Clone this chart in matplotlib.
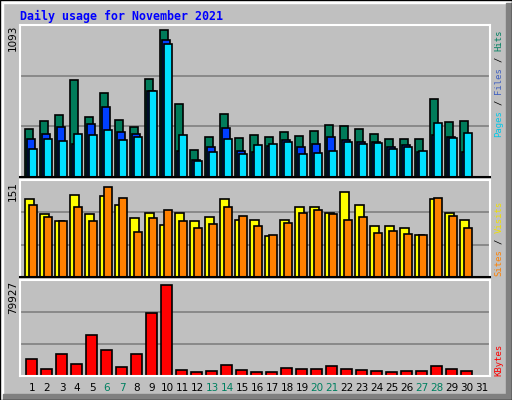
import matplotlib
matplotlib.use("Agg")
import matplotlib.pyplot as plt
from matplotlib.patches import Rectangle

days = [str(d) for d in range(1, 32)]
weekend = ["6", "7", "13", "14", "20", "21", "27", "28"]
hits = [357, 417, 461, 722, 446, 625, 424, 372, 729, 1093, 543, 201, 298, 469, 290, 312,
        298, 335, 305, 342, 387, 379, 357, 320, 283, 283, 283, 580, 409, 417, 0]
files = [283, 320, 372, 246, 394, 521, 335, 320, 640, 1012, 193, 126, 223, 365, 193, 186,
         231, 275, 223, 246, 298, 275, 260, 260, 223, 238, 186, 312, 298, 186, 0]
pages = [208, 283, 268, 320, 312, 350, 275, 298, 640, 982, 312, 119, 186, 283, 171, 238,
         246, 260, 171, 179, 193, 260, 246, 253, 208, 223, 193, 402, 290, 327, 0]
sites = [131, 105, 94, 138, 105, 135, 121, 98, 108, 87, 108, 94, 100, 131, 95, 95,
         69, 95, 117, 118, 108, 143, 121, 85, 85, 82, 71, 130, 108, 95, 0]
visits = [120, 100, 94, 118, 94, 151, 133, 75, 98, 112, 94, 82, 89, 117, 102, 85,
          71, 90, 108, 112, 105, 95, 100, 74, 77, 72, 71, 133, 103, 82, 0]
kbytes = [14932, 6149, 19325, 10541, 36014, 22838, 7906, 19325, 55339, 79927, 5270, 3514,
          4392, 9662, 5270, 3514, 3514, 7027, 6149, 6149, 8784, 6149, 5270, 4392, 3514,
          4392, 4392, 8784, 6149, 4392, 0]

W, H = 512, 400
BG = "#c0c0c0"
fig = plt.figure(figsize=(W / 100, H / 100), dpi=100)
fig.patch.set_facecolor(BG)

bg = fig.add_axes([0, 0, 1, 1])
bg.set_xlim(0, W); bg.set_ylim(H, 0); bg.axis("off")
bg.add_patch(Rectangle((0, 0), W, 3, color="white"))
bg.add_patch(Rectangle((0, 0), 3, H, color="white"))
bg.add_patch(Rectangle((506, 3), 6, H, color="#808080"))
bg.add_patch(Rectangle((3, 394), W, 6, color="#808080"))
bg.add_patch(Rectangle((0, 0), W, H, fill=False, ec="black", lw=1))
bg.text(20, 16, "Daily usage for November 2021", color="#0000ff", fontsize=8.4,
        family="DejaVu Sans Mono", fontweight="bold", va="center", ha="left")

X0, X1 = 20, 490
pxday = 15.0
left_d = 1 - 11 / 15.0
def mkax(y0, y1):
    ax = fig.add_axes([X0 / W, 1 - y1 / H, (X1 - X0) / W, (y1 - y0) / H])
    ax.set_facecolor(BG)
    ax.set_xlim(left_d, left_d + (X1 - X0) / pxday)
    ax.set_xticks([]); ax.set_yticks([])
    for s in ax.spines.values():
        s.set_color("white"); s.set_linewidth(1.5)
    ax.spines["bottom"].set_color("black")
    return ax

xs = list(range(1, 32))
def px(o):
    return o / pxday

ax1 = mkax(25, 177)
scale1 = 1093 * 151.5 / 147
ax1.set_ylim(0, scale1)
for g in (scale1 / 3, 2 * scale1 / 3):
    ax1.axhline(g, color="#808080", lw=1.2, zorder=0)
kw = dict(edgecolor="black", linewidth=1.2, zorder=2)
ax1.bar([x + px(-2) for x in xs], hits, width=px(7.4), color="#007c5a", **kw)
ax1.bar([x + px(0) for x in xs], files, width=px(7.4), color="#0040ff", **kw)
ax1.bar([x + px(2) for x in xs], pages, width=px(7.4), color="#00e0ff", **kw)

ax2 = mkax(180, 277)
scale2 = 151 * 99 / 92
ax2.set_ylim(0, scale2)
for g in (scale2 / 3, 2 * scale2 / 3):
    ax2.axhline(g, color="#808080", lw=1.2, zorder=0)
ax2.bar([x + px(-1.5) for x in xs], sites, width=px(8.4), color="#ffff00", **kw)
ax2.bar([x + px(2) for x in xs], visits, width=px(7.4), color="#ff8000", **kw)

ax3 = mkax(280, 376)
scale3 = 79927 * 96 / 91
ax3.set_ylim(0, scale3)
for g in (scale3 / 3, 2 * scale3 / 3):
    ax3.axhline(g, color="#808080", lw=1.2, zorder=0)
ax3.bar([x + px(0.5) for x in xs], kbytes, width=px(10.4), color="#ff0000", **kw)
ax3.spines["bottom"].set_color("white")

for i, d in enumerate(days):
    xp = X0 + (i + 1 - left_d) * pxday + 1
    bg.text(xp, 388, d, ha="center", va="center", fontsize=7.5,
            color="#008060" if d in weekend else "black", family="DejaVu Sans")

bg.text(13, 25, "1093", rotation=90, ha="center", va="top", fontsize=7.5, family="DejaVu Sans")
bg.text(13, 181, "151", rotation=90, ha="center", va="top", fontsize=7.5, family="DejaVu Sans")
bg.text(13, 281, "79927", rotation=90, ha="center", va="top", fontsize=7.5, family="DejaVu Sans")

def vlegend(ybottom, parts, fs=6.4):
    cw = 0.602 * fs * 100 / 72
    y = ybottom
    for txt, col in parts:
        t = txt.strip()
        lead = len(txt) - len(txt.lstrip())
        y -= cw * lead
        bg.text(499, y, t, rotation=90, ha="center", va="bottom", fontsize=fs,
                family="DejaVu Sans Mono", color=col)
        y -= cw * (len(txt) - lead)

vlegend(137, [("Pages", "#00c8e8"), (" / ", "black"), ("Files", "#4060c0"),
              (" / ", "black"), ("Hits", "#008060")])
vlegend(276, [("Sites", "#ff8000"), (" / ", "black"), ("Visits", "#f0e000")])
vlegend(376, [("KBytes", "#ff0000")])

fig.savefig("out.png", dpi=100, facecolor=BG)
